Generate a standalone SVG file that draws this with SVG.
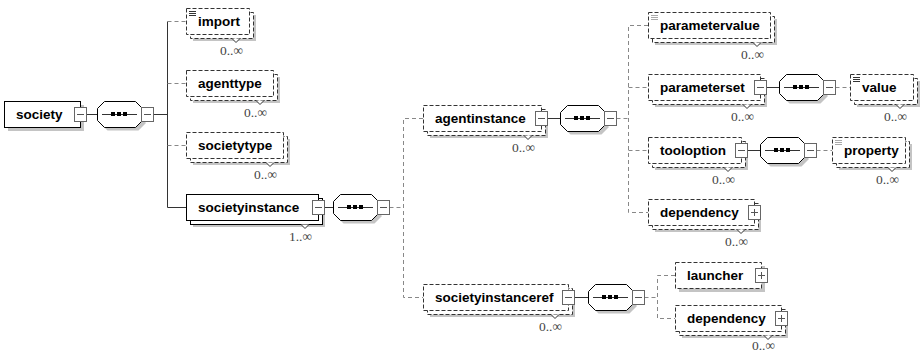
<svg xmlns="http://www.w3.org/2000/svg" width="923" height="352" viewBox="0 0 923 352">
<style>
.bg{fill:#fff}
.box{fill:#fff;stroke:#000;stroke-width:1}
.dbox{fill:#fff;stroke:#333;stroke-width:1;stroke-dasharray:4 2}
.shd{fill:#c4c4c4}
.btn{fill:#fff;stroke:#666;stroke-width:1}
.sym{stroke:#555;stroke-width:1;fill:none}
.chev{fill:#fff;stroke:#333;stroke-width:1}
.oct{fill:#fff;stroke:#000;stroke-width:1}
.dot{fill:#000}
.icn{stroke:#333;stroke-width:1}
.icg{stroke:#aaa;stroke-width:1}
.lbl{font-family:'Liberation Sans',Arial,sans-serif;font-weight:bold;font-size:13.5px;fill:#000}
.occ{font-family:'Liberation Serif','Times New Roman',serif;font-size:13.5px;fill:#444;text-anchor:end}
.ln{stroke:#333;stroke-width:1;fill:none}
.dl{stroke:#888;stroke-width:1;fill:none;stroke-dasharray:4 3}
</style>
<rect class="bg" x="0" y="0" width="923" height="352"/>

<g id="connectors">
<path class="ln" d="M86.5 114.5H97.5M153.5 114.5H167.5M167.5 21.5V207.5H186.5"/>
<path class="dl" d="M167.5 21.5H186M167.5 83.5H186M167.5 145.5H186"/>
<path class="ln" d="M324.5 207.5H333.5"/>
<path class="dl" d="M389.5 207.5H403.5M423 118.5H403.5V297.5H423"/>
<path class="ln" d="M547.5 118.5H560.5"/>
<path class="dl" d="M616.5 118.5H628.5M648 25.5H628.5V212.5H648M628.5 87.5H648M628.5 150.5H648"/>
<path class="ln" d="M766.5 87.5H779.5"/>
<path class="dl" d="M835.5 87.5H850"/>
<path class="ln" d="M747.5 150.5H760.5"/>
<path class="dl" d="M816.5 150.5H832"/>
<path class="ln" d="M574.5 297.5H588.5"/>
<path class="dl" d="M644.5 297.5H657.5M675 275.5H657.5V318.5H675"/>
</g>

<g id="society">
<rect class="shd" x="8" y="105" width="76" height="26"/>
<rect class="box" x="4.5" y="101.5" width="76" height="26"/>
<text class="lbl" x="16" y="119">society</text>
<rect class="btn" x="74.5" y="107.5" width="12" height="14"/>
<path class="sym" d="M77 114.5H84"/>
</g>

<g id="seq-society">
<polygon class="shd" points="107.5,104.5 138.5,104.5 145.5,111.5 145.5,123.5 138.5,130.5 107.5,130.5 100.5,123.5 100.5,111.5"/>
<polygon class="oct" points="104.5,101.5 135.5,101.5 142.5,108.5 142.5,120.5 135.5,127.5 104.5,127.5 97.5,120.5 97.5,108.5"/>
<path class="ln" d="M102 114.5H137"/>
<rect class="dot" x="111" y="112" width="4" height="4"/><rect class="dot" x="117" y="112" width="4" height="4"/><rect class="dot" x="123" y="112" width="4" height="4"/>
<rect class="btn" x="141.5" y="107.5" width="12" height="14"/>
<path class="sym" d="M144 114.5H151"/>
</g>

<g id="import">
<rect class="shd" x="193" y="15" width="63" height="26"/>
<rect class="dbox" x="190.5" y="12.5" width="63" height="26"/>
<rect class="dbox" x="186.5" y="8.5" width="63" height="26"/>
<path class="icn" d="M189 11.5H196M189 13.5H196M189 15.5H196"/>
<text class="lbl" x="198" y="26">import</text>
<polyline class="chev" points="232,38.5 236,42.5 240,38.5"/>
<text class="occ" x="243" y="55">0..∞</text>
</g>

<g id="agenttype">
<rect class="shd" x="193" y="77" width="87" height="26"/>
<rect class="dbox" x="190.5" y="74.5" width="87" height="26"/>
<rect class="dbox" x="186.5" y="70.5" width="87" height="26"/>
<text class="lbl" x="198" y="88">agenttype</text>
<polyline class="chev" points="256,100.5 260,104.5 264,100.5"/>
<text class="occ" x="267" y="117">0..∞</text>
</g>

<g id="societytype">
<rect class="shd" x="193" y="139" width="97" height="26"/>
<rect class="dbox" x="190.5" y="136.5" width="97" height="26"/>
<rect class="dbox" x="186.5" y="132.5" width="97" height="26"/>
<text class="lbl" x="198" y="150">societytype</text>
<polyline class="chev" points="266,162.5 270,166.5 274,162.5"/>
<text class="occ" x="277" y="179">0..∞</text>
</g>

<g id="societyinstance">
<rect class="shd" x="193" y="201" width="132" height="26"/>
<rect class="box" x="190.5" y="198.5" width="132" height="26"/>
<rect class="box" x="186.5" y="194.5" width="132" height="26"/>
<text class="lbl" x="198" y="212">societyinstance</text>
<rect class="btn" x="312.5" y="200.5" width="12" height="14"/>
<path class="sym" d="M315 207.5H322"/>
<polyline class="chev" points="301,224.5 305,228.5 309,224.5"/>
<text class="occ" x="312" y="241">1..∞</text>
</g>

<g id="seq-societyinstance">
<polygon class="shd" points="343.5,197.5 374.5,197.5 381.5,204.5 381.5,216.5 374.5,223.5 343.5,223.5 336.5,216.5 336.5,204.5"/>
<polygon class="oct" points="340.5,194.5 371.5,194.5 378.5,201.5 378.5,213.5 371.5,220.5 340.5,220.5 333.5,213.5 333.5,201.5"/>
<path class="ln" d="M338 207.5H373"/>
<rect class="dot" x="347" y="205" width="4" height="4"/><rect class="dot" x="353" y="205" width="4" height="4"/><rect class="dot" x="359" y="205" width="4" height="4"/>
<rect class="btn" x="377.5" y="200.5" width="12" height="14"/>
<path class="sym" d="M380 207.5H387"/>
</g>

<g id="agentinstance">
<rect class="shd" x="430" y="112" width="118" height="26"/>
<rect class="dbox" x="427.5" y="109.5" width="118" height="26"/>
<rect class="dbox" x="423.5" y="105.5" width="118" height="26"/>
<text class="lbl" x="435" y="123">agentinstance</text>
<rect class="btn" x="535.5" y="111.5" width="12" height="14"/>
<path class="sym" d="M538 118.5H545"/>
<polyline class="chev" points="524,135.5 528,139.5 532,135.5"/>
<text class="occ" x="535" y="152">0..∞</text>
</g>

<g id="seq-agentinstance">
<polygon class="shd" points="570.5,108.5 601.5,108.5 608.5,115.5 608.5,127.5 601.5,134.5 570.5,134.5 563.5,127.5 563.5,115.5"/>
<polygon class="oct" points="567.5,105.5 598.5,105.5 605.5,112.5 605.5,124.5 598.5,131.5 567.5,131.5 560.5,124.5 560.5,112.5"/>
<path class="ln" d="M565 118.5H600"/>
<rect class="dot" x="574" y="116" width="4" height="4"/><rect class="dot" x="580" y="116" width="4" height="4"/><rect class="dot" x="586" y="116" width="4" height="4"/>
<rect class="btn" x="604.5" y="111.5" width="12" height="14"/>
<path class="sym" d="M607 118.5H614"/>
</g>

<g id="parametervalue">
<rect class="shd" x="655" y="19" width="122" height="26"/>
<rect class="dbox" x="652.5" y="16.5" width="122" height="26"/>
<rect class="dbox" x="648.5" y="12.5" width="122" height="26"/>
<path class="icg" d="M651 15.5H658M651 17.5H658M651 19.5H658"/>
<text class="lbl" x="660" y="30">parametervalue</text>
<polyline class="chev" points="753,42.5 757,46.5 761,42.5"/>
<text class="occ" x="764" y="59">0..∞</text>
</g>

<g id="parameterset">
<rect class="shd" x="655" y="81" width="112" height="26"/>
<rect class="dbox" x="652.5" y="78.5" width="112" height="26"/>
<rect class="dbox" x="648.5" y="74.5" width="112" height="26"/>
<text class="lbl" x="660" y="92">parameterset</text>
<rect class="btn" x="754.5" y="80.5" width="12" height="14"/>
<path class="sym" d="M757 87.5H764"/>
<polyline class="chev" points="743,104.5 747,108.5 751,104.5"/>
<text class="occ" x="754" y="121">0..∞</text>
</g>

<g id="seq-parameterset">
<polygon class="shd" points="789.5,77.5 820.5,77.5 827.5,84.5 827.5,96.5 820.5,103.5 789.5,103.5 782.5,96.5 782.5,84.5"/>
<polygon class="oct" points="786.5,74.5 817.5,74.5 824.5,81.5 824.5,93.5 817.5,100.5 786.5,100.5 779.5,93.5 779.5,81.5"/>
<path class="ln" d="M784 87.5H819"/>
<rect class="dot" x="793" y="85" width="4" height="4"/><rect class="dot" x="799" y="85" width="4" height="4"/><rect class="dot" x="805" y="85" width="4" height="4"/>
<rect class="btn" x="823.5" y="80.5" width="12" height="14"/>
<path class="sym" d="M826 87.5H833"/>
</g>

<g id="value">
<rect class="shd" x="857" y="81" width="63" height="26"/>
<rect class="dbox" x="854.5" y="78.5" width="63" height="26"/>
<rect class="dbox" x="850.5" y="74.5" width="63" height="26"/>
<path class="icn" d="M853 77.5H860M853 79.5H860M853 81.5H860"/>
<text class="lbl" x="862" y="92">value</text>
<polyline class="chev" points="896,104.5 900,108.5 904,104.5"/>
<text class="occ" x="907" y="121">0..∞</text>
</g>

<g id="tooloption">
<rect class="shd" x="655" y="144" width="93" height="26"/>
<rect class="dbox" x="652.5" y="141.5" width="93" height="26"/>
<rect class="dbox" x="648.5" y="137.5" width="93" height="26"/>
<text class="lbl" x="660" y="155">tooloption</text>
<rect class="btn" x="735.5" y="143.5" width="12" height="14"/>
<path class="sym" d="M738 150.5H745"/>
<polyline class="chev" points="724,167.5 728,171.5 732,167.5"/>
<text class="occ" x="735" y="184">0..∞</text>
</g>

<g id="seq-tooloption">
<polygon class="shd" points="770.5,140.5 801.5,140.5 808.5,147.5 808.5,159.5 801.5,166.5 770.5,166.5 763.5,159.5 763.5,147.5"/>
<polygon class="oct" points="767.5,137.5 798.5,137.5 805.5,144.5 805.5,156.5 798.5,163.5 767.5,163.5 760.5,156.5 760.5,144.5"/>
<path class="ln" d="M765 150.5H800"/>
<rect class="dot" x="774" y="148" width="4" height="4"/><rect class="dot" x="780" y="148" width="4" height="4"/><rect class="dot" x="786" y="148" width="4" height="4"/>
<rect class="btn" x="804.5" y="143.5" width="12" height="14"/>
<path class="sym" d="M807 150.5H814"/>
</g>

<g id="property">
<rect class="shd" x="839" y="144" width="73" height="26"/>
<rect class="dbox" x="836.5" y="141.5" width="73" height="26"/>
<rect class="dbox" x="832.5" y="137.5" width="73" height="26"/>
<path class="icg" d="M835 140.5H842M835 142.5H842M835 144.5H842"/>
<text class="lbl" x="844" y="155">property</text>
<polyline class="chev" points="888,167.5 892,171.5 896,167.5"/>
<text class="occ" x="899" y="184">0..∞</text>
</g>

<g id="dependency-agentinstance">
<rect class="shd" x="655" y="206" width="106" height="26"/>
<rect class="dbox" x="652.5" y="203.5" width="106" height="26"/>
<rect class="dbox" x="648.5" y="199.5" width="106" height="26"/>
<text class="lbl" x="660" y="217">dependency</text>
<rect class="btn" x="748.5" y="205.5" width="12" height="14"/>
<path class="sym" d="M751 212.5H758M754.5 209V216"/>
<polyline class="chev" points="737,229.5 741,233.5 745,229.5"/>
<text class="occ" x="748" y="246">0..∞</text>
</g>

<g id="societyinstanceref">
<rect class="shd" x="430" y="291" width="145" height="26"/>
<rect class="dbox" x="427.5" y="288.5" width="145" height="26"/>
<rect class="dbox" x="423.5" y="284.5" width="145" height="26"/>
<text class="lbl" x="435" y="302">societyinstanceref</text>
<rect class="btn" x="562.5" y="290.5" width="12" height="14"/>
<path class="sym" d="M565 297.5H572"/>
<polyline class="chev" points="551,314.5 555,318.5 559,314.5"/>
<text class="occ" x="562" y="331">0..∞</text>
</g>

<g id="seq-societyinstanceref">
<polygon class="shd" points="598.5,287.5 629.5,287.5 636.5,294.5 636.5,306.5 629.5,313.5 598.5,313.5 591.5,306.5 591.5,294.5"/>
<polygon class="oct" points="595.5,284.5 626.5,284.5 633.5,291.5 633.5,303.5 626.5,310.5 595.5,310.5 588.5,303.5 588.5,291.5"/>
<path class="ln" d="M593 297.5H628"/>
<rect class="dot" x="602" y="295" width="4" height="4"/><rect class="dot" x="608" y="295" width="4" height="4"/><rect class="dot" x="614" y="295" width="4" height="4"/>
<rect class="btn" x="632.5" y="290.5" width="12" height="14"/>
<path class="sym" d="M635 297.5H642"/>
</g>

<g id="launcher">
<rect class="shd" x="679" y="266" width="86" height="26"/>
<rect class="dbox" x="675.5" y="262.5" width="86" height="26"/>
<text class="lbl" x="687" y="280">launcher</text>
<rect class="btn" x="755.5" y="268.5" width="12" height="14"/>
<path class="sym" d="M758 275.5H765M761.5 272V279"/>
</g>

<g id="dependency-societyinstanceref">
<rect class="shd" x="682" y="312" width="106" height="26"/>
<rect class="dbox" x="679.5" y="309.5" width="106" height="26"/>
<rect class="dbox" x="675.5" y="305.5" width="106" height="26"/>
<text class="lbl" x="687" y="323">dependency</text>
<rect class="btn" x="775.5" y="311.5" width="12" height="14"/>
<path class="sym" d="M778 318.5H785M781.5 315V322"/>
<polyline class="chev" points="764,335.5 768,339.5 772,335.5"/>
<text class="occ" x="775" y="350">0..∞</text>
</g>
</svg>
